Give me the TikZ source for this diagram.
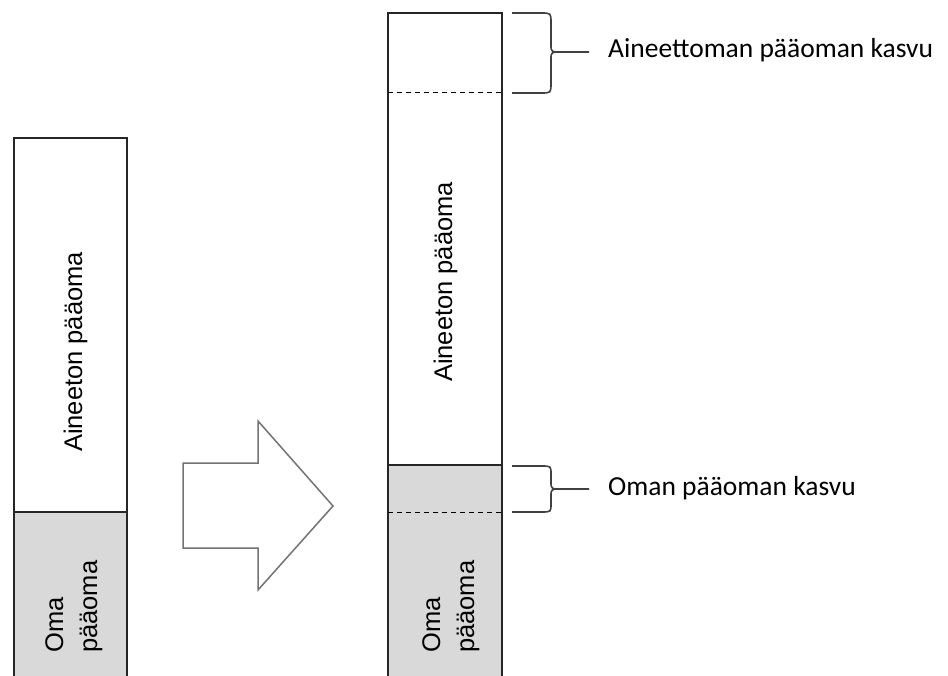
\documentclass[tikz,border=0pt]{standalone}
\usepackage{fontspec}
\setmainfont{Liberation Sans}
\newfontfamily\calibri{Carlito}
\tikzset{
        bar/.style={draw=black!85, line width=1.2pt, fill=white},
        share/.style={bar, fill=black!15},
        split/.style={draw=black, line width=1pt, dash pattern=on 5pt off 4pt},
        brace/.style={draw=black!75, line width=1.6pt},
        bigarrow/.style={draw=black!55, line width=1.5pt, fill=white, line join=miter},
        vlabel/.style={rotate=90, inner sep=0pt, font=\fontsize{25.5}{34}\selectfont},
        growth/.style={anchor=base west, inner sep=0pt, font=\calibri\fontsize{27.5}{33}\selectfont}
          }
\begin{document}
\begin{tikzpicture}[x=1pt, y=-1pt]
        \useasboundingbox (0,0) rectangle (948,676);
        \clip (0,0) rectangle (948,676);
        % before
        \draw[bar] (14,138) rectangle (127,512);
        \draw[share] (14,512) rectangle (127,690);
        \node[vlabel, anchor=base] (intang) at (82,352) {Aineeton pääoma};
        \node[vlabel, anchor=base west, align=left] (equity) at (97,653) {Oma\\pääoma};
        % arrow
        \draw[bigarrow] (183,463) -- (258,463) -- (258,421) -- (333,506)
          -- (258,590) -- (258,548) -- (183,548) -- cycle;
        % after
        \draw[bar] (388,13) rectangle (502,465);
        \draw[share] (388,465) rectangle (502,690);
        \draw[split] (388,93) -- (502,93);
        \draw[split] (388,512) -- (502,512);
        \node[vlabel, anchor=base] (intang2) at (452,282) {Aineeton pääoma};
        \node[vlabel, anchor=base west, align=left] (equity2) at (474,653) {Oma\\pääoma};
        % braces
        \draw[brace] (512,13) -- (541,13) .. controls (551,13) .. (551,23) -- (551,45)
          .. controls (551,52) .. (563,52) -- (589,52);
        \draw[brace] (563,52) .. controls (551,52) .. (551,59) -- (551,83)
          .. controls (551,93) .. (541,93) -- (512,93);
        \draw[brace] (512,466) -- (541,466) .. controls (551,466) .. (551,474) -- (551,482)
          .. controls (551,489) .. (563,489) -- (589,489);
        \draw[brace] (563,489) .. controls (551,489) .. (551,496) -- (551,504)
          .. controls (551,512) .. (541,512) -- (512,512);
        \node[growth] (intgrowth) at (608,58) {Aineettoman pääoman kasvu};
        \node[growth] (eqgrowth) at (608,495) {Oman pääoman kasvu};
\end{tikzpicture}
\end{document}
